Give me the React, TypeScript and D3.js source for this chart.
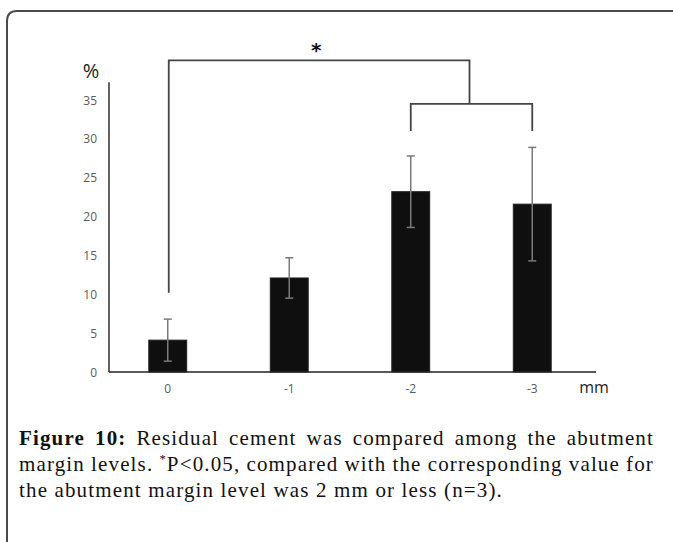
import React, { useEffect, useRef } from "react";
import * as d3 from "d3";

const categories = ["0", "-1", "-2", "-3"];
const means = [4.1, 12.1, 23.2, 21.6];
const errors = [2.7, 2.6, 4.6, 7.3];
const yTicks = [0, 5, 10, 15, 20, 25, 30, 35];
const yAxisTop = 37.3;
// significance brackets (values in %)
const outerLevel = 40.1;
const outerLeftLegEnd = 10.2;
const innerLevel = 34.5;
const innerLegEnd = 31.0;
const captionLines = [
  { bold: "Figure 10:", text: " Residual cement was compared among the abutment", justify: true },
  { bold: "", text: "margin levels. *P<0.05, compared with the corresponding value for", justify: true },
  { bold: "", text: "the abutment margin level was 2 mm or less (n=3).", justify: false },
];

export default function App() {
  const ref = useRef<SVGSVGElement>(null);
  useEffect(() => {
    const svg = d3.select(ref.current);
    svg.selectAll("*").remove();
    const W = 673, H = 542;

    // frame
    svg.append("path")
      .attr("d", `M7,${H + 5} L7,21 Q7,11 17,11 L${W + 5},11`)
      .attr("fill", "none").attr("stroke", "#4a4a4a").attr("stroke-width", 2);

    const x = d3.scaleBand<string>().domain(categories).range([107, 593]).paddingInner(0.688).paddingOuter(0.344);
    const y = d3.scaleLinear().domain([0, 35]).range([372, 100]);
    const axisX0 = 109, axisX1 = 596;

    // y axis line
    svg.append("line").attr("x1", axisX0).attr("x2", axisX0).attr("y1", y(0)).attr("y2", y(yAxisTop))
      .attr("stroke", "#222").attr("stroke-width", 1.4);
    // y tick labels
    svg.selectAll("text.yt").data(yTicks).enter().append("text")
      .attr("x", 97).attr("y", (d) => y(d) + 4.5).attr("text-anchor", "end")
      .attr("font-family", "'Open Sans', sans-serif").attr("font-size", 12).attr("fill", "#5a5a5a")
      .text((d) => String(d));

    // bars
    svg.selectAll("rect.bar").data(categories).enter().append("rect")
      .attr("x", (d) => x(d)!).attr("width", x.bandwidth())
      .attr("y", (_, i) => y(means[i])).attr("height", (_, i) => y(0) - y(means[i]))
      .attr("fill", "#0f0f0f").attr("stroke", "#222").attr("stroke-width", 1);

    // error bars
    const cx = (d: string) => x(d)! + x.bandwidth() / 2;
    const eg = svg.append("g").attr("stroke", "#7a7a7a").attr("stroke-width", 1.5);
    categories.forEach((c, i) => {
      const hi = y(means[i] + errors[i]), lo = y(means[i] - errors[i]);
      eg.append("line").attr("x1", cx(c)).attr("x2", cx(c)).attr("y1", hi).attr("y2", lo);
      eg.append("line").attr("x1", cx(c) - 4).attr("x2", cx(c) + 4).attr("y1", hi).attr("y2", hi);
      eg.append("line").attr("x1", cx(c) - 4).attr("x2", cx(c) + 4).attr("y1", lo).attr("y2", lo);
    });

    // x axis line
    svg.append("line").attr("x1", axisX0).attr("x2", axisX1).attr("y1", y(0)).attr("y2", y(0))
      .attr("stroke", "#222").attr("stroke-width", 1.4);
    svg.selectAll("text.xt").data(categories).enter().append("text")
      .attr("x", (d) => cx(d)).attr("y", 393).attr("text-anchor", "middle")
      .attr("font-family", "'Open Sans', sans-serif").attr("font-size", 12).attr("fill", "#5a5a5a")
      .text((d) => d);

    // axis titles
    svg.append("text").attr("x", 91).attr("y", 78).attr("text-anchor", "middle")
      .attr("font-family", "'Open Sans', sans-serif").attr("font-size", 20).attr("fill", "#222").text("%");
    svg.append("text").attr("x", 594).attr("y", 393).attr("text-anchor", "middle")
      .attr("font-family", "'Open Sans', sans-serif").attr("font-size", 16).attr("fill", "#222").text("mm");

    // brackets
    const bg = svg.append("g").attr("fill", "none").attr("stroke", "#444").attr("stroke-width", 1.8);
    const i2 = cx("-2"), i3 = cx("-3");
    const innerMid = (i2 + i3) / 2 - 2;
    bg.append("path").attr("d", `M${i2},${y(innerLegEnd)} L${i2},${y(innerLevel)} L${i3},${y(innerLevel)} L${i3},${y(innerLegEnd)}`);
    const o0 = cx("0") + 1;
    bg.append("path").attr("d", `M${o0},${y(outerLeftLegEnd)} L${o0},${y(outerLevel)} L${innerMid},${y(outerLevel)} L${innerMid},${y(innerLevel)}`);
    svg.append("text").attr("x", (o0 + innerMid) / 2 - 3).attr("y", y(outerLevel) - 3).attr("text-anchor", "middle")
      .attr("font-family", "'DejaVu Sans', sans-serif").attr("font-weight", "bold").attr("font-size", 20).attr("fill", "#111").text("*");

    // caption
    const left = 19, right = 654;
    const line3Width = 484;
    const baselines = [445, 471, 497];
    const family = "'Liberation Serif', serif";
    const fs = 21;
    const build = (ls: number) => {
      svg.selectAll("text.cap").remove();
      return captionLines.map((ln, i) => {
        const t = svg.append("text").attr("class", "cap").attr("x", left).attr("y", baselines[i])
          .attr("font-family", family).attr("font-size", fs).attr("fill", "#111")
          .attr("letter-spacing", ls);
        if (ln.bold) t.append("tspan").attr("font-weight", "bold").text(ln.bold);
        if (ln.text.includes("*")) {
          const [a, b] = ln.text.split("*");
          t.append("tspan").text(a);
          t.append("tspan").attr("font-size", fs * 0.6).attr("dy", -8).text("*");
          t.append("tspan").attr("dy", 8).text(b);
        } else {
          t.append("tspan").text(ln.text);
        }
        return t;
      });
    };
    let texts = build(0);
    const w3 = (texts[2].node() as SVGTextElement).getComputedTextLength();
    const ls = (line3Width - w3) / captionLines[2].text.length;
    texts = build(ls);
    texts.forEach((t, i) => {
      const ln = captionLines[i];
      if (!ln.justify) return;
      const w = (t.node() as SVGTextElement).getComputedTextLength();
      const spaces = ((ln.bold + ln.text).match(/ /g) || []).length;
      if (spaces > 0) t.attr("word-spacing", (right - left - w) / spaces);
    });
  }, []);
  return <svg ref={ref} width={673} height={542} style={{ position: "absolute", left: 0, top: 0 }} />;
}
